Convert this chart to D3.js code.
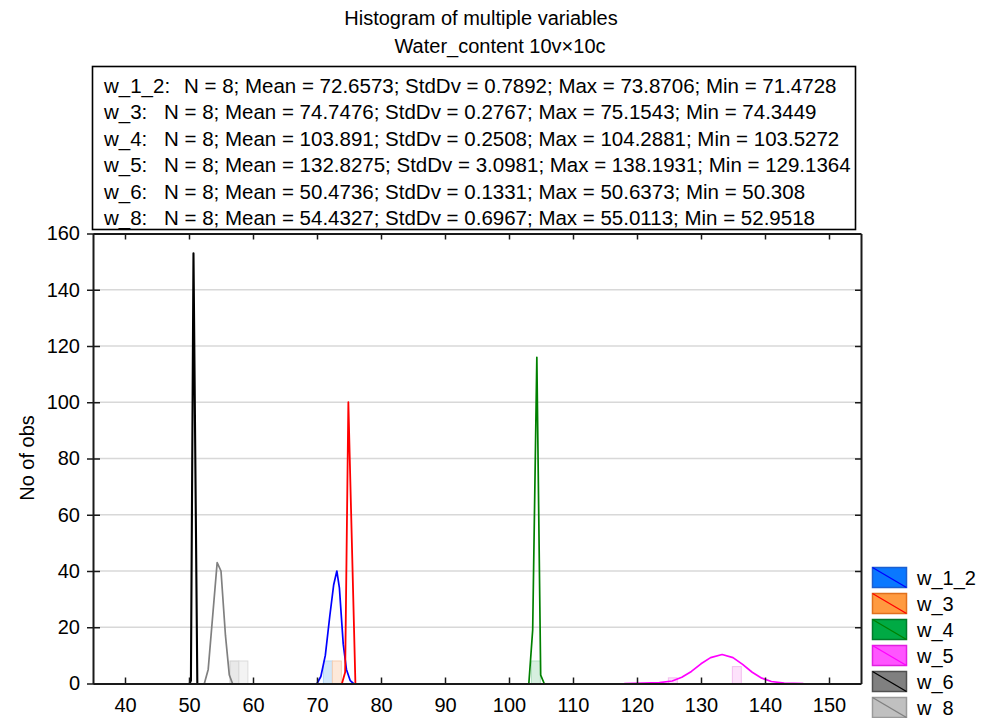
<!DOCTYPE html>
<html>
<head>
<meta charset="utf-8">
<script src="https://cdn.jsdelivr.net/npm/d3@7"></script>
<style>
  html, body { margin: 0; padding: 0; background: #fff; }
  svg { display: block; font-family: "Liberation Sans", Arial, sans-serif; }
</style>
</head>
<body>
<svg id="chart" width="984" height="718"></svg>
<script>
// ---------- DATA ----------
const titleText = "Histogram of multiple variables";
const subtitleText = "Water_content 10v\u00d710c";
const yAxisLabel = "No of obs";

const seriesNames = ["w_1_2", "w_3", "w_4", "w_5", "w_6", "w_8"];
const statN = [8, 8, 8, 8, 8, 8];
const statMean = ["72.6573", "74.7476", "103.891", "132.8275", "50.4736", "54.4327"];
const statStd = ["0.7892", "0.2767", "0.2508", "3.0981", "0.1331", "0.6967"];
const statMax = ["73.8706", "75.1543", "104.2881", "138.1931", "50.6373", "55.0113"];
const statMin = ["71.4728", "74.3449", "103.5272", "129.1364", "50.308", "52.9518"];

const xTicks = [40, 50, 60, 70, 80, 90, 100, 110, 120, 130, 140, 150];
const yTicks = [0, 20, 40, 60, 80, 100, 120, 140, 160];

// fitted curves (x value, count)
const curveW12X = [70.0, 70.6, 71.3, 72.0, 72.6, 73.1, 73.5, 74.1, 74.6, 75.2, 75.7];
const curveW12Y = [0, 2.5, 10, 24, 35, 40, 34, 14, 5, 1, 0];
const curveW3X = [73.9, 74.4, 74.9, 76.0];
const curveW3Y = [0, 4, 100, 0];
const curveW4X = [103.1, 103.7, 104.35, 104.95, 105.5];
const curveW4Y = [0, 19, 116, 3, 0];
const curveW5X = [118, 121, 123.5, 125.5, 127, 128.5, 130, 131.5, 133.3, 135, 136.5, 138, 139.5, 141, 143, 146];
const curveW5Y = [0, 0.1, 0.3, 0.9, 2.2, 4.3, 7, 9.2, 10.3, 9.2, 6.8, 4.0, 1.9, 0.7, 0.15, 0];
const curveW6X = [50.1, 50.3, 50.7, 51.3];
const curveW6Y = [0, 1, 153, 0];
const curveW8X = [52.4, 53.0, 54.4, 55.0, 55.7, 56.3, 56.8];
const curveW8Y = [0, 5, 43, 40, 17, 3, 0];

// histogram bars
const barSeries = ["w_1_2", "w_3", "w_4", "w_5", "w_5", "w_6", "w_8"];
const barStart = [71.0, 72.4, 103.5, 124.9, 134.9, 56.4, 57.8];
const barEnd = [72.4, 73.8, 104.9, 126.3, 136.3, 57.8, 59.2];
const barCount = [8, 8, 8, 2, 6, 8, 8];

// ---------- STYLE ----------
const lineColor = {w_1_2: "#0000ff", w_3: "#ff0000", w_4: "#008000", w_5: "#ff00ff", w_6: "#000000", w_8: "#808080"};
const swatchFill = {w_1_2: "#0a78ff", w_3: "#ff9a40", w_4: "#00aa44", w_5: "#ff55ff", w_6: "#808080", w_8: "#c0c0c0"};
const swatchStroke = {w_1_2: "#1b5fd0", w_3: "#e0701c", w_4: "#007a2a", w_5: "#e020e0", w_6: "#505050", w_8: "#9a9a9a"};
const barFill = {w_1_2: "#d2e8fa", w_3: "#fde9da", w_4: "#d6efdf", w_5: "#fde2fb", w_6: "#e9e9e9", w_8: "#f3f3f3"};
const barStroke = {w_1_2: "#b0d6f6", w_3: "#f5cdb0", w_4: "#b0dfc0", w_5: "#f3bdef", w_6: "#cfcfcf", w_8: "#dcdcdc"};

const curves = [
  {name: "w_8", xs: curveW8X, ys: curveW8Y, w: 1.7},
  {name: "w_1_2", xs: curveW12X, ys: curveW12Y, w: 1.7},
  {name: "w_3", xs: curveW3X, ys: curveW3Y, w: 1.8},
  {name: "w_4", xs: curveW4X, ys: curveW4Y, w: 1.7},
  {name: "w_5", xs: curveW5X, ys: curveW5Y, w: 1.7},
  {name: "w_6", xs: curveW6X, ys: curveW6Y, w: 2.1}
];

const svg = d3.select("#chart");
const L = 93, R = 861, T = 233.5, B = 683.5;
const x = d3.scaleLinear().domain([35, 155]).range([L, R]);
const y = d3.scaleLinear().domain([0, 160]).range([B, T]);
const fs = 20;
const fsStats = 20.5;

// titles
svg.append("text").attr("x", 481).attr("y", 25).attr("text-anchor", "middle")
  .attr("font-size", fs).text(titleText);
svg.append("text").attr("x", 500).attr("y", 53).attr("text-anchor", "middle")
  .attr("font-size", fs).text(subtitleText);

// stats box
const boxL = 92.5, boxR = 855.5, boxT = 66.5, boxB = 229.5;
svg.append("rect").attr("x", boxL).attr("y", boxT).attr("width", boxR - boxL).attr("height", boxB - boxT)
  .attr("fill", "#fff").attr("stroke", "#000").attr("stroke-width", 1.6);
seriesNames.forEach((s, i) => {
  const ty = 93 + i * 26.4;
  svg.append("text").attr("x", 104).attr("y", ty).attr("font-size", fsStats).text(s + ":");
  svg.append("text").attr("x", i === 0 ? 184 : 164).attr("y", ty).attr("font-size", fsStats)
    .text(`N = ${statN[i]}; Mean = ${statMean[i]}; StdDv = ${statStd[i]}; Max = ${statMax[i]}; Min = ${statMin[i]}`);
});

// gridlines
svg.append("g").selectAll("line").data(yTicks.filter(t => t > 0 && t < 160)).join("line")
  .attr("x1", L).attr("x2", R).attr("y1", d => y(d)).attr("y2", d => y(d))
  .attr("stroke", "#d8d8d8").attr("stroke-width", 1.5);

// bars
svg.append("g").selectAll("rect").data(barSeries.map((s, i) => ({s, a: barStart[i], b: barEnd[i], c: barCount[i]})))
  .join("rect")
  .attr("x", d => x(d.a)).attr("width", d => x(d.b) - x(d.a))
  .attr("y", d => y(d.c)).attr("height", d => y(0) - y(d.c))
  .attr("fill", d => barFill[d.s]).attr("stroke", d => barStroke[d.s]).attr("stroke-width", 1);

// curves
const line = d3.line().x(d => x(d[0])).y(d => y(d[1]));
curves.forEach(c => {
  svg.append("path").datum(c.xs.map((v, i) => [v, c.ys[i]]))
    .attr("d", line).attr("fill", "none").attr("stroke", lineColor[c.name])
    .attr("stroke-width", c.w).attr("stroke-linejoin", "round");
});

// axes
const axisColor = "#1a1a1a";
const gB = svg.append("g").attr("transform", `translate(0,${B})`)
  .call(d3.axisBottom(x).tickValues(xTicks).tickSizeInner(-6).tickSizeOuter(0).tickPadding(14));
const gT = svg.append("g").attr("transform", `translate(0,${T})`)
  .call(d3.axisTop(x).tickValues(xTicks).tickSizeInner(-6).tickSizeOuter(0).tickFormat(""));
const gL = svg.append("g").attr("transform", `translate(${L},0)`)
  .call(d3.axisLeft(y).tickValues(yTicks).tickSizeInner(6).tickSizeOuter(0).tickPadding(7));
const gR = svg.append("g").attr("transform", `translate(${R},0)`)
  .call(d3.axisRight(y).tickValues(yTicks).tickSizeInner(-6).tickSizeOuter(0).tickFormat(""));
[gB, gT, gL, gR].forEach(g => {
  g.select(".domain").attr("stroke", axisColor).attr("stroke-width", 2);
  g.selectAll(".tick line").attr("stroke", axisColor).attr("stroke-width", 1.5);
  g.selectAll(".tick text").attr("font-size", fs).attr("fill", "#000")
    .attr("font-family", "Liberation Sans, Arial, sans-serif");
});
// inward part of left ticks
gL.selectAll(".tick line").attr("x1", 7);

// y label
svg.append("text").attr("transform", "translate(34,458) rotate(-90)").attr("text-anchor", "middle")
  .attr("font-size", fs).text(yAxisLabel);

// legend
const lg = svg.append("g");
seriesNames.forEach((s, i) => {
  const ly = 567.5 + i * 26;
  lg.append("rect").attr("x", 872.5).attr("y", ly).attr("width", 34).attr("height", 20)
    .attr("fill", swatchFill[s]).attr("stroke", swatchStroke[s]).attr("stroke-width", 1.5);
  lg.append("line").attr("x1", 872.5).attr("y1", ly).attr("x2", 906.5).attr("y2", ly + 20)
    .attr("stroke", lineColor[s]).attr("stroke-width", 1.3);
  lg.append("text").attr("x", 917).attr("y", ly + 17).attr("font-size", fs).text(s);
});
</script>
</body>
</html>
